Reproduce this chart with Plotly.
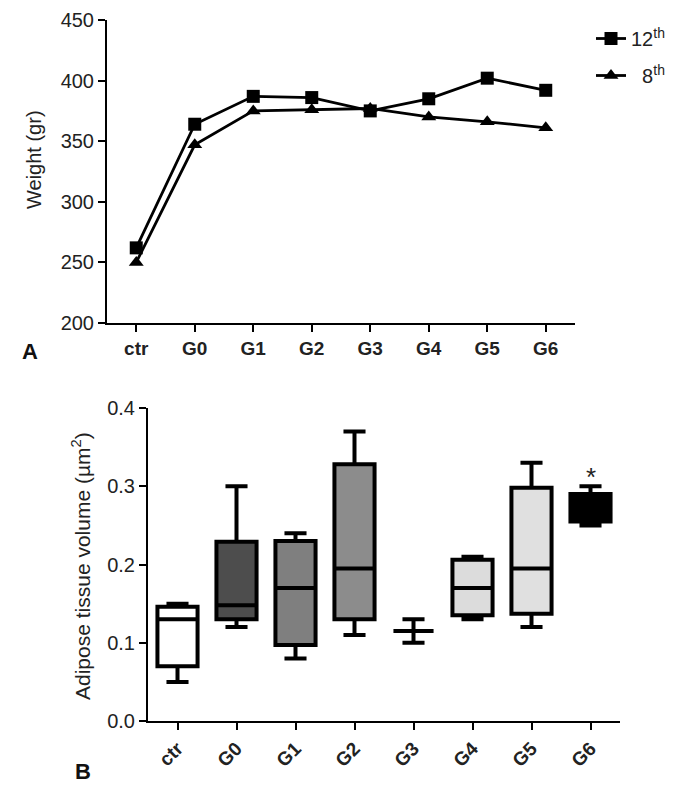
import plotly.graph_objects as go

# ---- data ----
groups = ["ctr", "G0", "G1", "G2", "G3", "G4", "G5", "G6"]
weight_12th = [262, 364, 387, 386, 375, 385, 402, 392]
weight_8th = [250, 347, 375, 376, 377, 370, 366, 361]

box_lower = [0.05, 0.12, 0.08, 0.11, 0.10, 0.13, 0.12, 0.25]
box_q1 = [0.07, 0.13, 0.097, 0.13, 0.115, 0.135, 0.137, 0.255]
box_median = [0.13, 0.148, 0.17, 0.195, 0.115, 0.17, 0.195, 0.27]
box_q3 = [0.146, 0.229, 0.23, 0.328, 0.115, 0.206, 0.298, 0.29]
box_upper = [0.15, 0.30, 0.24, 0.37, 0.13, 0.21, 0.33, 0.30]
box_fill = ["#ffffff", "#4d4d4d", "#7f7f7f", "#8c8c8c", "#ffffff", "#dcdcdc", "#e0e0e0", "#000000"]

W, H = 685, 797
OFF = 8  # page body margin offset
FONT = "Liberation Sans"


def px(x):
    return (x - OFF) / W


def py(y):
    return 1 - (y - OFF) / H


fig = go.Figure()

fig.add_trace(go.Scatter(
    x=groups, y=weight_12th, name="12<sup>th</sup>", mode="lines+markers",
    legendgroup="a",
    line=dict(color="black", width=2.8),
    marker=dict(symbol="square", size=13, color="black"),
    xaxis="x", yaxis="y"))
fig.add_trace(go.Scatter(
    x=groups, y=weight_8th, name="\u00a0\u00a08<sup>th</sup>", mode="lines+markers",
    legendgroup="b",
    line=dict(color="black", width=2.8),
    marker=dict(symbol="triangle-up", size=13, color="black"),
    xaxis="x", yaxis="y"))

for i, g in enumerate(groups):
    fig.add_trace(go.Box(
        x=[g], q1=[box_q1[i]], median=[box_median[i]], q3=[box_q3[i]],
        lowerfence=[box_lower[i]], upperfence=[box_upper[i]],
        fillcolor=box_fill[i], line=dict(color="black", width=4),
        width=0.68, whiskerwidth=0.55, boxpoints=False,
        showlegend=False, hoverinfo="skip",
        xaxis="x2", yaxis="y2"))

axis_common = dict(showline=True, linecolor="black", linewidth=2,
                   ticks="outside", tickcolor="black", tickwidth=2, ticklen=7,
                   showgrid=False, zeroline=False, automargin=False)

bold_labels = ["<b>%s</b>" % g for g in groups]

fig.update_layout(
    width=W, height=H, autosize=False,
    margin=dict(l=0, r=0, t=0, b=0, pad=0, autoexpand=False),
    paper_bgcolor="white", plot_bgcolor="white",
    font=dict(family=FONT, color="black"),
    showlegend=True,
    legend=dict(x=px(591), y=py(19), xanchor="left", yanchor="top",
                font=dict(size=20, family=FONT, color="#222"),
                bgcolor="rgba(0,0,0,0)", tracegroupgap=8, itemwidth=30),
    xaxis=dict(domain=[px(107), px(575)], type="category", range=[-0.5, 7.5],
               tickvals=groups, ticktext=bold_labels,
               tickfont=dict(size=19, family=FONT, color="#222"),
               **axis_common, anchor="y"),
    yaxis=dict(domain=[py(323), py(20)], range=[200, 450], dtick=50,
               tickfont=dict(size=20, family=FONT, color="#222"),
               **axis_common, anchor="x"),
    xaxis2=dict(domain=[px(148), px(620)], type="category", range=[-0.5, 7.5],
                tickangle=-45, tickvals=groups, ticktext=bold_labels,
                tickfont=dict(size=19, family=FONT, color="#222"),
                **axis_common, anchor="y2"),
    yaxis2=dict(domain=[py(721), py(408)], range=[0, 0.4], dtick=0.1,
                tickformat=".1f",
                tickfont=dict(size=20, family=FONT, color="#222"),
                **axis_common, anchor="x2"),
    boxmode="overlay",
)

annotations = [
    dict(text="Weight (gr)", x=px(34), y=py(160), textangle=-90,
         font=dict(size=20, color="#222")),
    dict(text="Adipose tissue volume (µm<sup>2</sup>)", x=px(81), y=py(566),
         textangle=-90, font=dict(size=21, color="#222")),
    dict(text="<b>A</b>", x=px(30), y=py(352), font=dict(size=22, color="#111")),
    dict(text="<b>B</b>", x=px(83), y=py(771), font=dict(size=22, color="#111")),
]
for a in annotations:
    a.update(xref="paper", yref="paper", showarrow=False, xanchor="center", yanchor="middle")
    fig.add_annotation(**a)

fig.add_annotation(text="*", x="G6", y=0.312, xref="x2", yref="y2", showarrow=False,
                   font=dict(size=26, color="#222"), yanchor="middle")

fig.write_html("out.html")
